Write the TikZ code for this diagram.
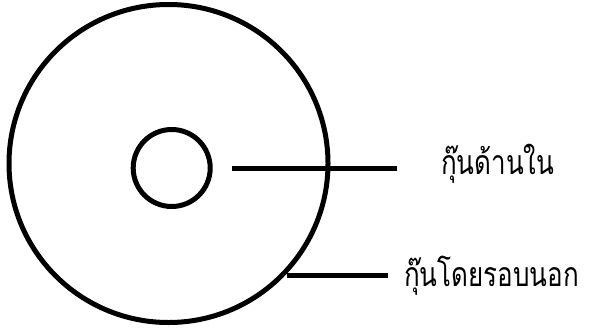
\documentclass[tikz,border=0pt]{standalone}
\usepackage{fontspec}
\newfontfamily\thaifont[Script=Thai]{Loma}
\newcommand{\tallthai}[1]{\scalebox{1}[1.3]{#1}}
\begin{document}
\begin{tikzpicture}[x=1pt,y=-1pt,
  ring/.style={draw=black,line width=5pt},
  leader/.style={draw=black,line width=5pt},
  lbl/.style={inner sep=0pt,anchor=west,font=\thaifont\fontsize{26}{30}\selectfont}]
\useasboundingbox (0,0) rectangle (593,327);
\draw[ring] (168.5,163.5) ellipse [x radius=159.5, y radius=159];
\draw[ring] (171.7,168) circle [radius=38.5];
\coordinate (a1) at (232,168);
\coordinate (a2) at (397,168);
\coordinate (b1) at (287,275.7);
\coordinate (b2) at (388,275.7);
\node[lbl] (inner) at (441,164) {\tallthai{กุ๊นด้านใน}};
\node[lbl] (outer) at (404,276) {\tallthai{กุ๊นโดยรอบนอก}};
\draw[leader] (a1) -- (a2);
\draw[leader] (b1) -- (b2);
\end{tikzpicture}
\end{document}
